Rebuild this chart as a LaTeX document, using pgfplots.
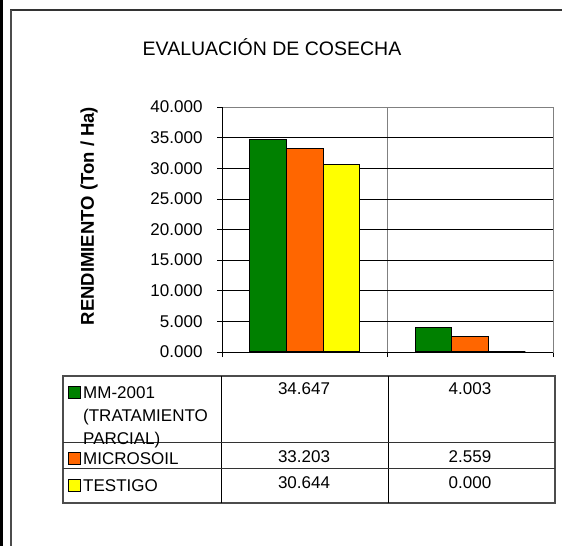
\documentclass[border=0pt]{standalone}
\usepackage{fontspec}
\setmainfont{Liberation Sans}
\usepackage{pgfplots}
\pgfplotsset{compat=1.18}

\definecolor{barGreen}{HTML}{008000}
\definecolor{barOrange}{HTML}{FF6600}
\definecolor{barYellow}{HTML}{FFFF00}

\newcommand{\tabfont}{\fontsize{17}{23}\selectfont}

\begin{document}
\begin{tikzpicture}
\useasboundingbox (0,0) rectangle (562pt,-546pt);
% frame
\fill[black] (0,0) rectangle (3pt,-546pt);
\draw[line width=2pt, black!80] (10pt,-10pt) -- (562pt,-10pt);
\draw[line width=1.5pt, black!70] (11pt,-10pt) -- (11pt,-546pt);

% title and y label
\node[font=\fontsize{19.5}{23}\selectfont] at (272pt,-47pt) {EVALUACIÓN DE COSECHA};
\node[rotate=90, font=\fontsize{18.5}{22}\selectfont\bfseries] at (89pt,-216pt) {RENDIMIENTO (Ton / Ha)};

\begin{axis}[
  at={(222pt,-352pt)}, anchor=south west,
  scale only axis, width=331pt, height=245pt,
  xmin=0, xmax=2, ymin=0, ymax=40,
  ytick={0,5,...,40},
  xtick={0,1,2}, xticklabels={},
  tick pos=left, tick align=outside,
  major tick length=5pt,
  tick style={black, line width=0.6pt},
  yticklabel style={font=\tabfont, xshift=-11pt},
  /pgf/number format/.cd, fixed, fixed zerofill, precision=3, 1000 sep={}, assume math mode=true,
  /pgfplots/.cd,
  ymajorgrids, xmajorgrids,
  major grid style={black, line width=0.6pt},
  x grid style={gray, line width=0.6pt},
  axis line style={gray, line width=0.6pt},
  ybar=0pt, bar width=0.222,
  clip=false,
]
\addplot[fill=barGreen, draw=black, line width=1.2pt] coordinates {(0.5,34.647) (1.5,4.003)};
\addplot[fill=barOrange, draw=black, line width=1.2pt] coordinates {(0.5,33.203) (1.5,2.559)};
\addplot[fill=barYellow, draw=black, line width=1.2pt] coordinates {(0.5,30.644) (1.5,0.000)};
\draw[black, line width=0.8pt] (rel axis cs:0,1) -- (rel axis cs:0,0) -- (rel axis cs:1,0);
\end{axis}

% data table
\draw[black!70, line width=1.2pt] (63pt,-376pt) rectangle (555pt,-503pt);
\draw[black, line width=0.8pt] (221pt,-376pt) -- (221pt,-503pt)
  (388pt,-376pt) -- (388pt,-503pt);
\draw[black!80, line width=1pt] (63pt,-442pt) -- (555pt,-442pt)
  (63pt,-468pt) -- (555pt,-468pt);

\foreach \x/\a/\b/\c in {304/34.647/33.203/30.644, 470/4.003/2.559/0.000}{
  \node[font=\tabfont, anchor=base] at (\x pt,-394pt) {\a};
  \node[font=\tabfont, anchor=base] at (\x pt,-462pt) {\b};
  \node[font=\tabfont, anchor=base] at (\x pt,-488pt) {\c};
}

\filldraw[fill=barGreen, draw=black, line width=0.8pt] (68pt,-386pt) rectangle (80pt,-398pt);
\filldraw[fill=barOrange, draw=black, line width=0.8pt] (68pt,-452pt) rectangle (80pt,-464pt);
\filldraw[fill=barYellow, draw=black, line width=0.8pt] (68pt,-479pt) rectangle (80pt,-491pt);
\node[font=\tabfont, anchor=base west, inner sep=0pt] at (83pt,-398pt) {MM-2001};
\node[font=\tabfont, anchor=base west, inner sep=0pt] at (83pt,-421pt) {(TRATAMIENTO};
\node[font=\tabfont, anchor=base west, inner sep=0pt] at (83pt,-444pt) {PARCIAL)};
\node[font=\tabfont, anchor=base west, inner sep=0pt] at (83pt,-464pt) {MICROSOIL};
\node[font=\tabfont, anchor=base west, inner sep=0pt] at (83pt,-491pt) {TESTIGO};
\end{tikzpicture}
\end{document}
